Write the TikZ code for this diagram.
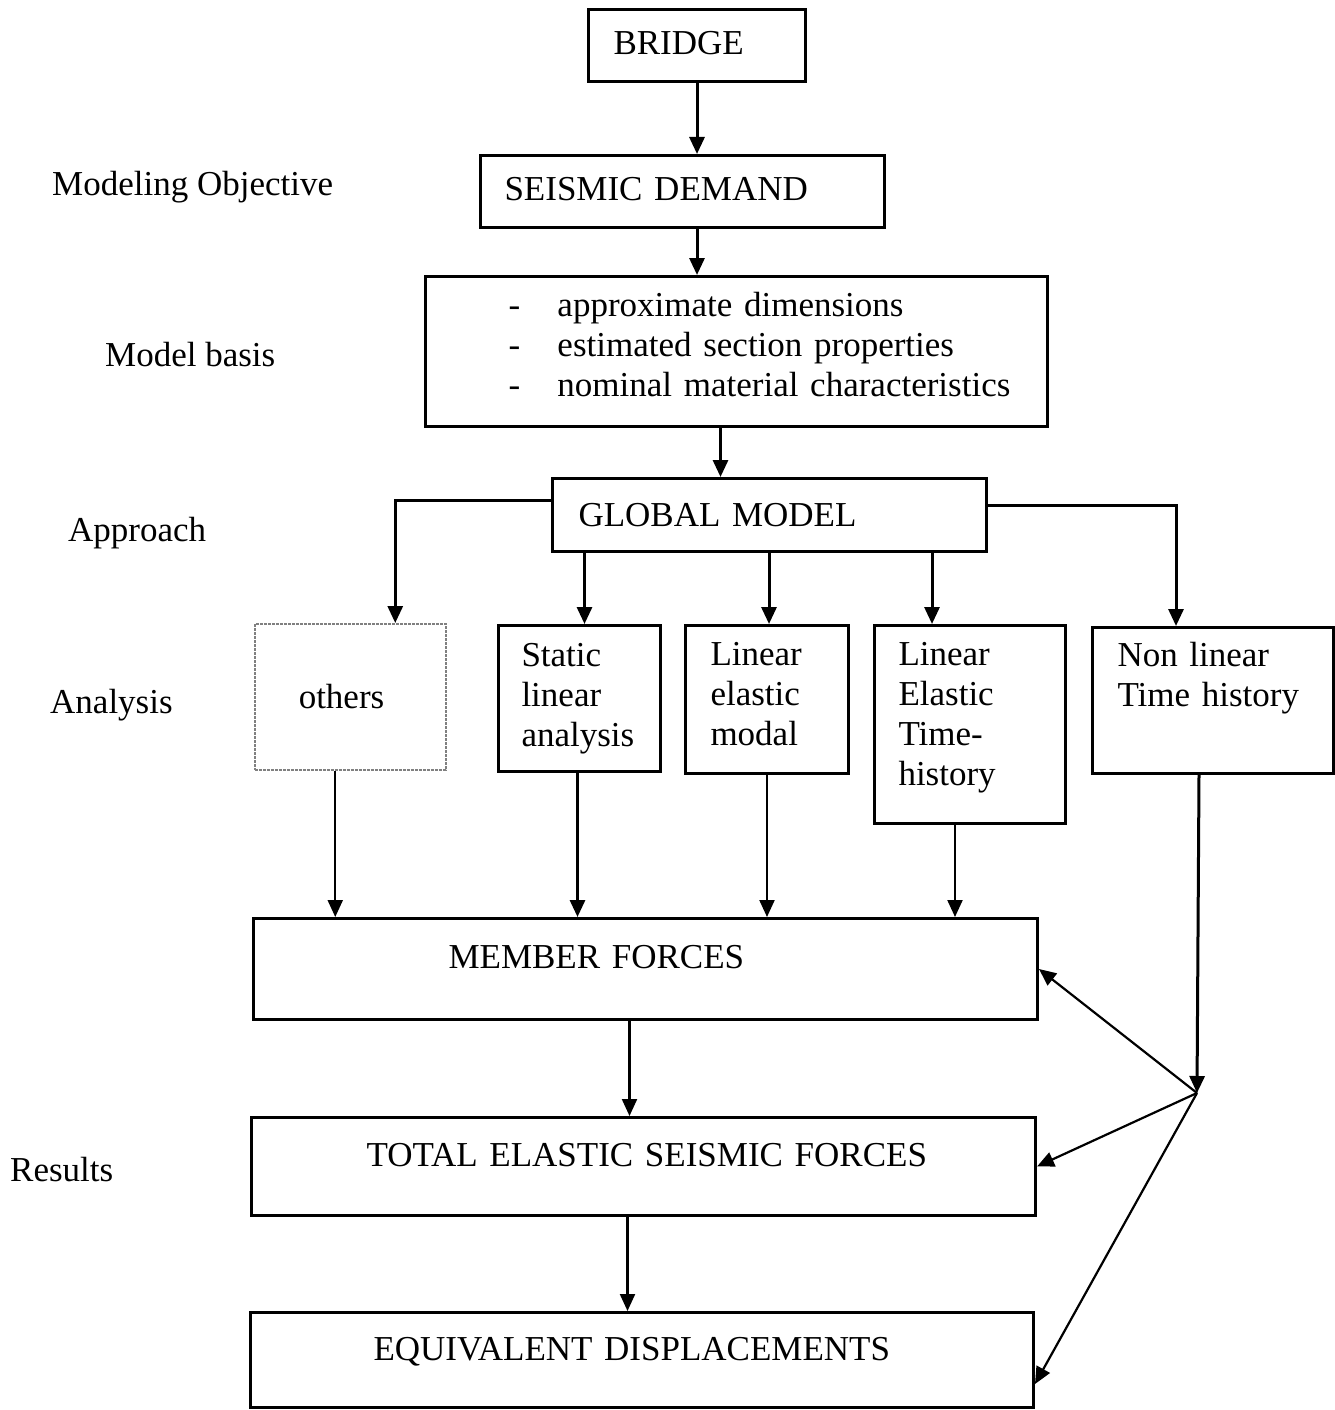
\documentclass[tikz,border=0pt]{standalone}
\usepackage{fontspec}
\setmainfont{Liberation Serif}
\usetikzlibrary{arrows.meta,calc}

\begin{document}
\begin{tikzpicture}[x=1pt, y=-1pt,
    font=\fontsize{35}{40}\selectfont,
    >={Triangle[length=17pt,width=15pt]},
    box/.style={draw, line width=3pt, anchor=north west, align=left},
    flow/.style={->, line width=3pt},
    flowthin/.style={->, line width=2.2pt}]
  \useasboundingbox (0,0) rectangle (1334,1410);

  % main column
  \node[box, minimum width=217pt, minimum height=72pt, inner xsep=25pt, text width=167pt, text depth=6pt] (bridge) at (587,8) {BRIDGE};
  \node[box, minimum width=404pt, minimum height=72pt, inner xsep=24pt, text width=356pt, text depth=6pt] (demand) at (479,154) {SEISMIC DEMAND};
  \node[box, minimum width=622pt, minimum height=150pt, inner xsep=83pt, text width=456pt, text depth=94pt] (basis) at (424,275)
    {\mbox{\makebox[49pt][l]{-}approximate dimensions}\\
     \mbox{\makebox[49pt][l]{-}estimated section properties}\\
     \mbox{\makebox[49pt][l]{-}nominal material characteristics}};
  \node[box, minimum width=434pt, minimum height=73pt, inner xsep=26pt, text width=382pt] (global) at (551,477) {GLOBAL MODEL};

  % analysis boxes
  \node[box, draw=black!50, densely dotted, line width=1.5pt, minimum width=191pt, minimum height=146pt,
        inner xsep=44pt, text width=103pt] (others) at (254,623) {others};
  \node[box, minimum width=162pt, minimum height=146pt, inner xsep=23pt, text width=116pt] (static) at (497,624)
    {Static\\linear\\analysis};
  \node[box, minimum width=163pt, minimum height=148pt, inner xsep=25pt, text width=113pt, text depth=92pt] (modal) at (684,624)
    {Linear\\elastic\\modal};
  \node[box, minimum width=191pt, minimum height=198pt, inner xsep=24pt, text width=143pt, text depth=141pt] (lethist) at (873,624)
    {Linear\\Elastic\\Time-\\history};
  \node[box, minimum width=241pt, minimum height=146pt, inner xsep=25pt, text width=191pt, text depth=92pt] (nlthist) at (1091,626)
    {Non linear\\Time history};

  % results
  \node[box, minimum width=784pt, minimum height=101pt, inner xsep=195pt, text width=394pt, text depth=24pt] (forces) at (252,917)
    {MEMBER FORCES};
  \node[box, minimum width=784pt, minimum height=98pt, inner xsep=115pt, text width=554pt, text depth=24pt] (total) at (250,1116)
    {\mbox{TOTAL ELASTIC SEISMIC FORCES}};
  \node[box, minimum width=783pt, minimum height=95pt, inner xsep=123pt, text width=537pt, text depth=22pt] (displ) at (249,1311)
    {\mbox{EQUIVALENT DISPLACEMENTS}};

  % row labels
  \node[anchor=base west, inner sep=0pt] (lobj) at (52,195) {Modeling Objective};
  \node[anchor=base west, inner sep=0pt] (lbasis) at (105,366) {Model basis};
  \node[anchor=base west, inner sep=0pt] (lappr) at (68,541) {Approach};
  \node[anchor=base west, inner sep=0pt] (lanal) at (50,713) {Analysis};
  \node[anchor=base west, inner sep=0pt] (lres) at (10,1181) {Results};

  % arrows down the column
  \draw[flow] (bridge.south) -- (bridge.south |- demand.north);
  \draw[flow] (bridge.south |- demand.south) -- (bridge.south |- basis.north);
  \path (basis.south) ++(-16,0) coordinate (b2g);
  \draw[flow] (b2g) -- (b2g |- global.north);

  % global model to the analyses
  \draw[flow] ($(global.west)+(0,-15)$) -| ($(others.north)+(45,0)$);
  \draw[flow] ($(global.east)+(0,-10)$) -| ($(nlthist.north)+(-37,0)$);
  \foreach \n/\dx in {static/5,modal/2,lethist/-38} {
    \path (\n.north) ++(\dx,0) coordinate (top\n);
    \draw[flow] (top\n |- global.south) -- (top\n);
  }

  % analyses to member forces
  \foreach \n/\dx/\w in {others/-15/flowthin,static/-2/flow,modal/0/flowthin,lethist/-15/flowthin} {
    \path (\n.south) ++(\dx,0) coordinate (bot\n);
    \draw[\w] (bot\n) -- (bot\n |- forces.north);
  }

  % non linear goes straight to all results
  \coordinate (junc) at (1197,1093);
  \draw[flow] ($(nlthist.south)+(-14,0)$) -- (junc);
  \draw[flowthin] (junc) -- (forces.east);
  \draw[flowthin] (junc) -- (total.east);
  \draw[flowthin] (junc) -- ($(displ.east)+(0,24)$);

  % down the results
  \path (forces.south) ++(-16,0) coordinate (f2t);
  \draw[flowthin] (f2t) -- (f2t |- total.north);
  \path (total.south) ++(-16,0) coordinate (t2d);
  \draw[flowthin] (t2d) -- (t2d |- displ.north);
\end{tikzpicture}
\end{document}
